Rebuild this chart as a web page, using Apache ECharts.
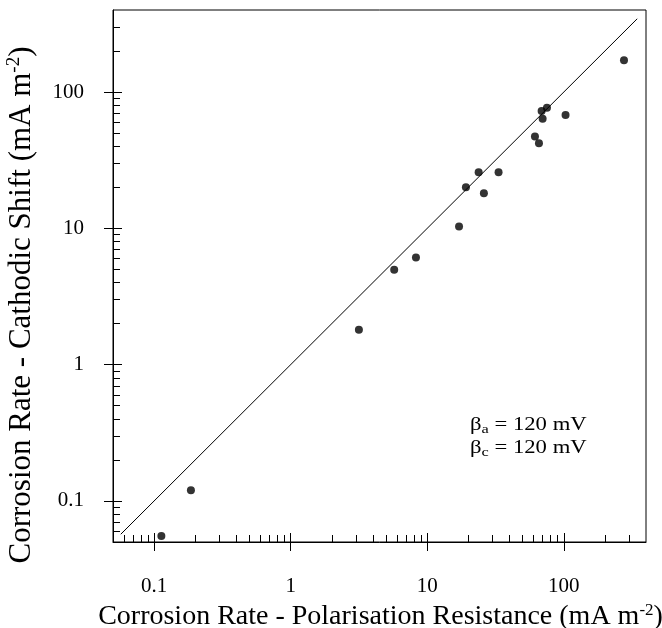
<!DOCTYPE html>
<html><head><meta charset="utf-8">
<script src="https://cdn.jsdelivr.net/npm/echarts@6/dist/echarts.min.js"></script>
<style>html,body{margin:0;padding:0;background:#fff}#c{width:662px;height:628px}</style>
</head><body><div id="c"></div>
<script>
// Data (mA m^-2)
const polarisationResistance = [0.113, 0.186, 3.16, 5.73, 8.27, 17.1, 19.2, 23.8, 26.0, 33.3, 61.5, 65.8, 68.8, 70.0, 75.3, 103, 276];
const cathodicShift          = [0.0553, 0.120, 1.80, 4.98, 6.10, 10.3, 20.0, 25.8, 18.1, 25.8, 47.2, 42.2, 72.5, 63.8, 76.8, 67.8, 171];
const equalityLine = [0.057, 345];
const majorTicks = [0.1, 1, 10, 100];
const minorTicks = [0.06,0.07,0.08,0.09,0.2,0.3,0.4,0.5,0.6,0.7,0.8,0.9,2,3,4,5,6,7,8,9,20,30,40,50,60,70,80,90,200,300];
const axisMin = 0.05, axisMax = 400;
const xTitle = 'Corrosion Rate - Polarisation Resistance (mA m';
const yTitle = 'Corrosion Rate - Cathodic Shift (mA m';
const noteA = '120 mV', noteC = '120 mV';

const FONT = 'Liberation Serif';
const fmt = v => String(+(+v).toPrecision(6));

function mkAxes(isX){
  const title = isX ? xTitle : yTitle;
  const fs = isX ? 28 : 31;
  const base = {type:'log', logBase:10, min:axisMin, max:axisMax, gridIndex:0,
    position: isX ? 'bottom' : 'left', splitLine:{show:false}, minorTick:{show:false}};
  return [
    Object.assign({}, base, {
      axisLine:{show:true, lineStyle:{color:'#000', width:1}},
      axisTick:{show:true, inside:false, length:9, customValues: majorTicks, lineStyle:{color:'#000', width:1}},
      axisLabel:{show:true, customValues: majorTicks, formatter: fmt, fontFamily: FONT, fontSize:21, color:'#000', margin: isX ? 34 : 29},
      name: '{t|' + title + '}{s|-2}{t|)}',
      nameLocation:'middle', nameGap: isX ? 56 : 75,
      nameTextStyle:{padding: isX ? [0,0,0,2] : [0,58,0,0], rich:{
        t:{fontFamily:FONT, fontSize:fs, color:'#000'},
        s:{fontFamily:FONT, fontSize:Math.round(fs*0.62), color:'#000', verticalAlign:'top', padding:[0,0,Math.round(fs*0.45),0]}}}
    }),
    Object.assign({}, base, {
      axisLine:{show:false},
      axisTick:{show:true, inside:true, length:9, customValues: majorTicks, lineStyle:{color:'#000', width:1}},
      axisLabel:{show:false}
    }),
    Object.assign({}, base, {
      axisLine:{show:false},
      axisTick:{show:true, inside:true, length:7, customValues: minorTicks, lineStyle:{color:'#000', width:1}},
      axisLabel:{show:false}
    })
  ];
}

const chart = echarts.init(document.getElementById('c'), null, {renderer:'canvas'});
const note = (sub, val) => '{b|β}{s|' + sub + '}{b| = ' + val + '}';
const noteRich = {
  b:{fontFamily:FONT, fontSize:18, fill:'#000'},
  s:{fontFamily:FONT, fontSize:13, fill:'#000', padding:[9,0,0,0]}
};
chart.setOption({
  animation:false,
  backgroundColor:'#fff',
  grid:{left:113, top:10, right:16, bottom:86, containLabel:false, outerBoundsMode:'none',
    show:true, borderColor:'#000', borderWidth:1, backgroundColor:'transparent'},
  xAxis: mkAxes(true),
  yAxis: mkAxes(false),
  series:[
    {type:'line', data: equalityLine.map(v => [v, v]), symbol:'none', lineStyle:{color:'#000', width:1}, silent:true},
    {type:'scatter', data: polarisationResistance.map((x,i) => [x, cathodicShift[i]]), symbol:'circle', symbolSize:8, itemStyle:{color:'#000'}}
  ],
  graphic:[
    {type:'text', x:470, y:425, scaleX:1.26, style:{text: note('a', noteA), verticalAlign:'middle', rich:noteRich}},
    {type:'text', x:470, y:448, scaleX:1.26, style:{text: note('c', noteC), verticalAlign:'middle', rich:noteRich}}
  ]
});
</script></body></html>
